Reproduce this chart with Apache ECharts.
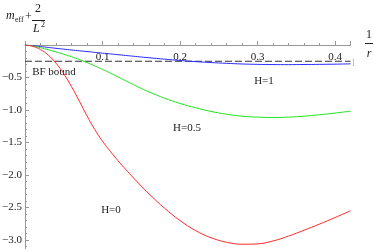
<!DOCTYPE html>
<html>
<head>
<meta charset="utf-8">
<script src="https://cdn.jsdelivr.net/npm/echarts@6/dist/echarts.min.js"></script>
<style>html,body{margin:0;padding:0;background:#fff;}#c{width:374px;height:249px;}</style>
</head>
<body>
<div id="c"></div>
<script>
// x values (1/r)
const xs = [0,0.01,0.02,0.03,0.04,0.05,0.06,0.07,0.08,0.09,0.10,0.11,0.12,0.13,0.14,0.15,0.16,0.18,0.20,0.22,0.24,0.26,0.28,0.30,0.32,0.34,0.36,0.38,0.40,0.42];
// H=1 (blue)
const blueH1 = [0,-0.01,-0.024,-0.037,-0.051,-0.064,-0.077,-0.089,-0.101,-0.113,-0.125,-0.137,-0.149,-0.161,-0.173,-0.185,-0.196,-0.218,-0.238,-0.256,-0.27,-0.282,-0.292,-0.298,-0.301,-0.302,-0.30,-0.298,-0.295,-0.29];
// H=0.5 (green)
const greenH05 = [0,-0.016,-0.042,-0.073,-0.107,-0.143,-0.181,-0.223,-0.27,-0.321,-0.375,-0.432,-0.491,-0.551,-0.61,-0.668,-0.722,-0.818,-0.899,-0.966,-1.022,-1.065,-1.095,-1.11,-1.115,-1.11,-1.095,-1.073,-1.047,-1.018];
// H=0 (red)
const redH0 = [0,-0.02,-0.07,-0.155,-0.28,-0.44,-0.64,-0.86,-1.09,-1.30,-1.48,-1.635,-1.78,-1.915,-2.045,-2.17,-2.29,-2.51,-2.70,-2.855,-2.965,-3.035,-3.065,-3.06,-3.015,-2.94,-2.85,-2.755,-2.655,-2.55];
// BF bound
const bfBound = -0.25;
const bfX = [0, 0.42];
// axis ranges / ticks
const xMin = 0, xMax = 0.42, xMajor = 0.1, xMinor = 0.02;
const yMin = -3.5, yMax = 0, yMajor = 0.5;

const font = 'Liberation Serif';
const axisCol = '#999';
const txtCol = '#222';

const chart = echarts.init(document.getElementById('c'));
const pairs = arr => xs.map((x, i) => [x, arr[i]]);
const pxPerY = 65;

chart.setOption({
  animation: false,
  grid: {left: 25, top: 45, width: 325.5, height: (yMax - yMin) * pxPerY,
         outerBoundsMode: 'none', containLabel: false},
  xAxis: [
    {type: 'value', position: 'top', min: xMin, max: xMax, interval: xMinor,
     axisLine: {show: true, onZero: false, lineStyle: {color: axisCol, width: 1}},
     axisTick: {show: true, inside: false, length: 2, lineStyle: {color: axisCol}},
     axisLabel: {show: true, inside: true, margin: 7, fontFamily: font, fontSize: 11, color: txtCol,
       formatter: v => {
         if (v === 0) return '';
         if (Math.abs(v * 10 - Math.round(v * 10)) > 1e-6) return '';
         return v.toFixed(1);
       }},
     splitLine: {show: false}},
    {type: 'value', position: 'top', min: xMin, max: xMax, interval: xMajor,
     axisLine: {show: false, onZero: false},
     axisTick: {show: true, inside: false, length: 4, lineStyle: {color: axisCol}},
     axisLabel: {show: false},
     splitLine: {show: false}}
  ],
  yAxis: {type: 'value', min: yMin, max: yMax, interval: yMajor,
    axisLine: {show: true, onZero: false, lineStyle: {color: axisCol, width: 1}},
    axisTick: {show: true, inside: true, length: 4, lineStyle: {color: axisCol}},
    minorTick: {show: true, splitNumber: 5, length: 2, lineStyle: {color: axisCol}},
    axisLabel: {margin: 3, fontFamily: font, fontSize: 11, color: txtCol,
      formatter: v => (v < 0 && Math.abs(v * 2 - Math.round(v * 2)) < 1e-6) ? '\u2212' + (-v).toFixed(1) : ''},
    splitLine: {show: false}},
  series: [
    {type: 'line', name: 'BF bound', data: bfX.map(x => [x, bfBound]), symbol: 'none',
     lineStyle: {color: '#333', width: 1, type: [7, 3]}, z: 1},
    {type: 'line', name: 'H=1', data: pairs(blueH1), symbol: 'none', smooth: 0.4,
     lineStyle: {color: '#2a2aff', width: 1}},
    {type: 'line', name: 'H=0.5', data: pairs(greenH05), symbol: 'none', smooth: 0.4,
     lineStyle: {color: '#1ee61e', width: 1}},
    {type: 'line', name: 'H=0', data: pairs(redH0), symbol: 'none', smooth: 0.4,
     lineStyle: {color: '#ff2a2a', width: 1}}
  ],
  graphic: [
    // y-axis name: m_eff + 2/L^2
    {type: 'text', left: 6, top: 10, style: {text: 'm', font: 'italic 12px ' + font, fill: txtCol}},
    {type: 'text', left: 15, top: 16, style: {text: 'eff', font: '8px ' + font, fill: txtCol}},
    {type: 'text', left: 25, top: 11, style: {text: '+', font: '12px ' + font, fill: txtCol}},
    {type: 'text', left: 35, top: 3, style: {text: '2', font: '12px ' + font, fill: txtCol}},
    {type: 'line', shape: {x1: 32, y1: 20.5, x2: 45, y2: 20.5}, style: {stroke: txtCol, lineWidth: 1}},
    {type: 'text', left: 33, top: 23, style: {text: 'L', font: 'italic 12px ' + font, fill: txtCol}},
    {type: 'text', left: 41, top: 21, style: {text: '2', font: '8px ' + font, fill: txtCol}},
    // x-axis name: 1/r
    {type: 'text', x: 369, y: 35, style: {text: '1', font: '12px ' + font, fill: txtCol, align: 'center', verticalAlign: 'middle'}},
    {type: 'line', shape: {x1: 365, y1: 43.5, x2: 373, y2: 43.5}, style: {stroke: txtCol, lineWidth: 1}},
    {type: 'text', x: 369, y: 54, style: {text: 'r', font: 'italic 12px ' + font, fill: txtCol, align: 'center', verticalAlign: 'middle'}},
    // y-axis stub above the x-axis
    {type: 'line', shape: {x1: 25.5, y1: 42, x2: 25.5, y2: 45}, style: {stroke: axisCol, lineWidth: 1}},
    // annotations
    {type: 'text', x: 54, y: 72, style: {text: 'BF bound', font: '11px ' + font, fill: txtCol, align: 'center', verticalAlign: 'middle'}},
    {type: 'text', x: 264, y: 81, style: {text: 'H=1', font: '11px ' + font, fill: txtCol, align: 'center', verticalAlign: 'middle'}},
    {type: 'text', x: 187, y: 128, style: {text: 'H=0.5', font: '11px ' + font, fill: txtCol, align: 'center', verticalAlign: 'middle'}},
    {type: 'text', x: 111, y: 210, style: {text: 'H=0', font: '11px ' + font, fill: txtCol, align: 'center', verticalAlign: 'middle'}},
    {type: 'text', x: 353, y: 63, style: {text: ']', font: '9px ' + font, fill: '#aaa', align: 'center', verticalAlign: 'middle'}}
  ]
});
</script>
</body>
</html>
